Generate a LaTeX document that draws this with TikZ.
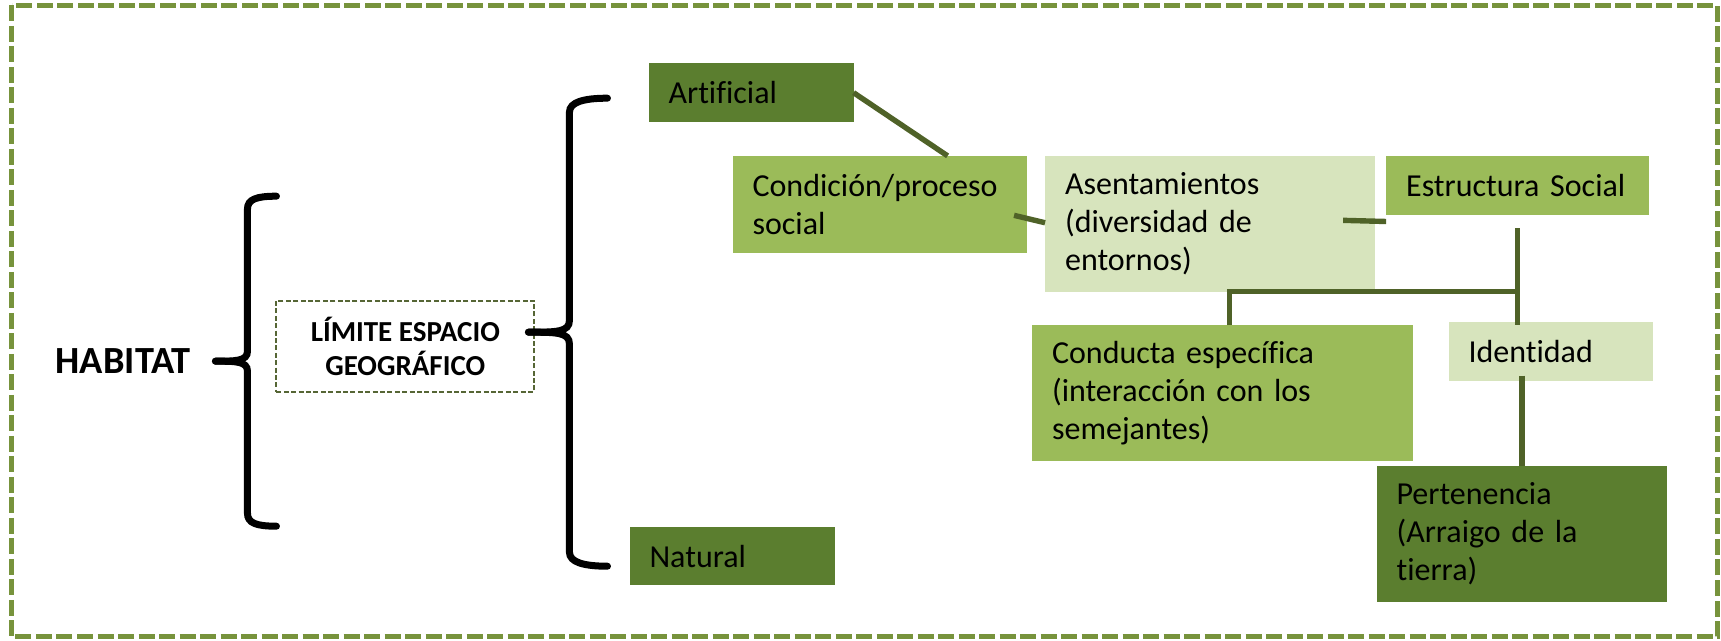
\documentclass[tikz,border=0pt]{standalone}
\usepackage{fontspec}
\setmainfont[Ligatures=NoCommon]{Carlito}
\usetikzlibrary{positioning}
\definecolor{hdark}{HTML}{5B7E2F}
\definecolor{hmid}{HTML}{9BBB59}
\definecolor{hlight}{HTML}{D7E4BD}
\definecolor{hlink}{HTML}{4F6228}
\definecolor{hframe}{HTML}{77933C}
\hyphenpenalty=10000
\exhyphenpenalty=10000

\begin{document}
\begin{tikzpicture}[
    x=1pt, y=1pt,
    every node/.style={font=\fontsize{16}{19}\selectfont, inner sep=0pt, outer sep=0pt},
    box/.style={rectangle, align=left, inner xsep=10pt, inner ysep=0pt},
    darkbox/.style={box, fill=hdark},
    midbox/.style={box, fill=hmid},
    lightbox/.style={box, fill=hlight},
    limitbox/.style={
        draw=hlink!85!gray,
        line width=1pt,
        dash pattern=on 2.5pt off 1.2pt,
        align=center,
        font=\bfseries\fontsize{14.5}{17}\selectfont,
        minimum width=128.85pt,
        minimum height=45.5pt
    },
    link/.style={draw=hlink, line width=2.7pt},
    curly/.style={draw=black, line width=3.5pt, line cap=round},
    outerframe/.style={draw=hframe, line width=2.5pt, dash pattern=on 8pt off 2.25pt}
]

\useasboundingbox (0,0) rectangle (860.5,-320.5);
\draw[outerframe] (5.75,-2.75) rectangle (858.5,-318.5);

% Left part
\node[font=\bfseries\fontsize{19.2}{22}\selectfont] (habitat) at (61.5,-180.6) {HABITAT};
\node[limitbox, right=43.1pt of habitat, yshift=7.5pt] (limite) {LÍMITE ESPACIO\\GEOGRÁFICO};

% Two kinds of space
\node[darkbox, text width=82.5pt, minimum height=29.2pt,
      above right=89.4pt and 57.2pt of limite] (art) {Artificial};
\node[darkbox, text width=82.5pt, minimum height=29pt,
      below right=67.9pt and 47.7pt of limite] (nat) {Natural};

% Top row
\node[midbox, text width=127.25pt, minimum height=48.45pt,
      below right=17pt and 42pt of art.south west] (cond) {Condición/proceso\\social};
\node[lightbox, text width=144.75pt, minimum height=67.85pt,
      right=9pt of cond.north east, anchor=north west] (asent) {Asentamientos\\(diversidad de\\entornos)};
\node[midbox, text width=111.45pt, minimum height=29.6pt,
      right=5.8pt of asent.north east, anchor=north west] (estr) {Estructura Social};

% Lower rows
\node[midbox, text width=170.55pt, minimum height=67.7pt,
      below=16.8pt of asent.south west, anchor=north west, xshift=-6.5pt] (cond2) {Conducta específica\\(interacción con los\\semejantes)};
\node[lightbox, text width=82pt, minimum height=29.25pt,
      below right=53.5pt and 31.2pt of estr.south west] (iden) {Identidad};
\node[darkbox, text width=125.4pt, minimum height=68.25pt,
      below=42.5pt of iden, xshift=-14.3pt] (pert) {Pertenencia\\(Arraigo de la\\tierra)};

% Braces
\coordinate (lbtip) at ([xshift=12.6pt]habitat.east);
\coordinate (rbtip) at ([xshift=-2.85pt,yshift=7pt]limite.east);

\draw[curly] (lbtip) .. controls +(10pt,0) and +(0,-5pt) .. ++(16pt,5pt) -- ++(0,71pt)
    .. controls +(0,5pt) and +(-10pt,0) .. ++(14.5pt,6.5pt);
\draw[curly] (lbtip) .. controls +(10pt,0) and +(0,5pt) .. ++(16pt,-5pt) -- ++(0,-71pt)
    .. controls +(0,-5pt) and +(-10pt,0) .. ++(14.5pt,-6.5pt);

\draw[curly] (rbtip) .. controls +(14pt,0) and +(0,-6pt) .. ++(20.5pt,6pt) -- ++(0,104pt)
    .. controls +(0,5pt) and +(-12pt,0) .. ++(19pt,7pt);
\draw[curly] (rbtip) .. controls +(14pt,0) and +(0,6pt) .. ++(20.5pt,-6pt) -- ++(0,-104pt)
    .. controls +(0,-5pt) and +(-12pt,0) .. ++(19pt,-7pt);

% Connectors
\draw[link] (art.east) -- ([xshift=33.9pt]cond.north);
\draw[link] ([xshift=-6.5pt,yshift=-5.5pt]cond.east) -- ([yshift=0.5pt]asent.west);
\draw[link] ([xshift=-15.7pt,yshift=1.7pt]asent.east) -- ([yshift=-3.2pt]estr.south west);
\draw[link] ([yshift=-6.5pt]estr.south) -- ([yshift=-1.7pt]estr.south |- iden.north);
\draw[link] ([xshift=3.5pt]cond2.north) |- (estr.south |- asent.south);
\draw[link] ([yshift=2.5pt]iden.south -| pert.north) -- (pert.north);

\end{tikzpicture}
\end{document}
